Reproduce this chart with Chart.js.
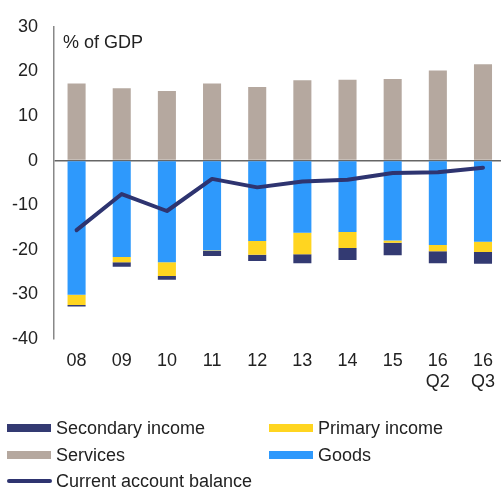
<!DOCTYPE html>
<html>
<head>
<meta charset="utf-8">
<script src="https://cdn.jsdelivr.net/npm/chart.js@4/dist/chart.umd.min.js"></script>
<style>
  html, body { margin: 0; padding: 0; background: #fff; overflow: hidden; width: 501px; height: 489px; }
  #wrap { position: relative; width: 506px; height: 400px; }
  #legend { position: absolute; left: 0; top: 0; width: 501px; height: 489px; pointer-events: none;
    font-family: "Liberation Sans", Arial, sans-serif; font-size: 18px; color: #222; }
  .item { position: absolute; display: flex; align-items: center; white-space: nowrap; }
  .sw { width: 44px; height: 8px; margin-right: 5px; }
  .ln { width: 45px; height: 4px; border-radius: 2px; margin-right: 4px; }
</style>
</head>
<body>
<div id="wrap"><canvas id="c"></canvas></div>
<div id="legend"></div>
<script>
const categories = ['08', '09', '10', '11', '12', '13', '14', '15', ['16', 'Q2'], ['16', 'Q3']];
const services  = [17.3, 16.2, 15.6, 17.3, 16.5, 18.0, 18.1, 18.3, 20.2, 21.6];
const goods     = [-30.1, -21.6, -22.8, -20.1, -18.0, -16.2, -16.0, -17.9, -18.9, -18.2];
const primary   = [-2.3, -1.2, -3.1, -0.1, -3.1, -4.8, -3.6, -0.5, -1.4, -2.3];
const secondary = [-0.3, -1.0, -0.8, -1.2, -1.4, -2.0, -2.7, -2.8, -2.7, -2.6];
const balance   = [-15.6, -7.5, -11.3, -4.1, -6.0, -4.7, -4.3, -2.8, -2.6, -1.6];
const yTicks    = [30, 20, 10, 0, -10, -20, -30, -40];
const unitLabel = '% of GDP';

const COL = { sec: '#333a72', pri: '#ffd520', ser: '#b5a89f', goods: '#2e99fc', line: '#2e3470' };
const FONT = "'Liberation Sans', Arial, sans-serif";

const unitPlugin = {
  id: 'unit',
  afterDraw(chart) {
    const { ctx, chartArea } = chart;
    ctx.save();
    ctx.font = '18px ' + FONT;
    ctx.fillStyle = '#222';
    ctx.textBaseline = 'middle';
    ctx.textAlign = 'left';
    ctx.fillText(unitLabel, chartArea.left + 9, 43);
    ctx.restore();
  }
};

const chart = new Chart(document.getElementById('c'), {
  data: {
    labels: categories,
    datasets: [
      { type: 'line', label: 'Current account balance', data: balance, borderColor: COL.line, backgroundColor: COL.line,
        borderWidth: 4, pointRadius: 0, tension: 0, borderCapStyle: 'round', borderJoinStyle: 'round', stack: 'ca', order: 0 },
      { type: 'bar', label: 'Services', data: services, backgroundColor: COL.ser, stack: 's', order: 1 },
      { type: 'bar', label: 'Goods', data: goods, backgroundColor: COL.goods, stack: 's', order: 1 },
      { type: 'bar', label: 'Primary income', data: primary, backgroundColor: COL.pri, stack: 's', order: 1 },
      { type: 'bar', label: 'Secondary income', data: secondary, backgroundColor: COL.sec, stack: 's', order: 1 }
    ]
  },
  options: {
    responsive: true,
    maintainAspectRatio: false,
    animation: false,
    layout: { padding: { top: 12, right: 0, bottom: 0, left: 0 } },
    datasets: { bar: { categoryPercentage: 1, barPercentage: 0.4 } },
    plugins: { legend: { display: false }, tooltip: { enabled: false } },
    scales: {
      x: {
        stacked: true,
        grid: { display: false, drawTicks: false },
        border: { display: false },
        ticks: { color: '#222', font: { family: FONT, size: 18 }, padding: 11, maxRotation: 0, autoSkip: false },
        afterFit(s) { s.height = 61; }
      },
      y: {
        stacked: true,
        min: -40, max: 30,
        afterBuildTicks(s) { s.ticks = yTicks.map(v => ({ value: v })); },
        grid: { drawTicks: false, color: c => (c.tick && c.tick.value === 0) ? '#666' : 'rgba(0,0,0,0)', lineWidth: 1.5 },
        border: { display: true, color: '#888', width: 1.5 },
        ticks: { color: '#222', font: { family: FONT, size: 18 }, padding: 16 },
        afterFit(s) { s.width = 54; }
      }
    }
  },
  plugins: [unitPlugin]
});

// HTML legend built from the datasets
const legendLayout = [
  { label: 'Secondary income', x: 7, y: 428 },
  { label: 'Primary income', x: 269, y: 428 },
  { label: 'Services', x: 7, y: 455 },
  { label: 'Goods', x: 269, y: 455 },
  { label: 'Current account balance', x: 7, y: 481 }
];
const lg = document.getElementById('legend');
legendLayout.forEach(it => {
  const ds = chart.data.datasets.find(d => d.label === it.label);
  const el = document.createElement('div');
  el.className = 'item';
  el.style.left = it.x + 'px';
  el.style.top = (it.y - 10) + 'px';
  el.style.height = '20px';
  const sw = document.createElement('span');
  sw.className = ds.type === 'line' ? 'ln' : 'sw';
  sw.style.background = ds.type === 'line' ? ds.borderColor : ds.backgroundColor;
  const tx = document.createElement('span');
  tx.textContent = ds.label;
  el.appendChild(sw); el.appendChild(tx);
  lg.appendChild(el);
});
</script>
</body>
</html>
